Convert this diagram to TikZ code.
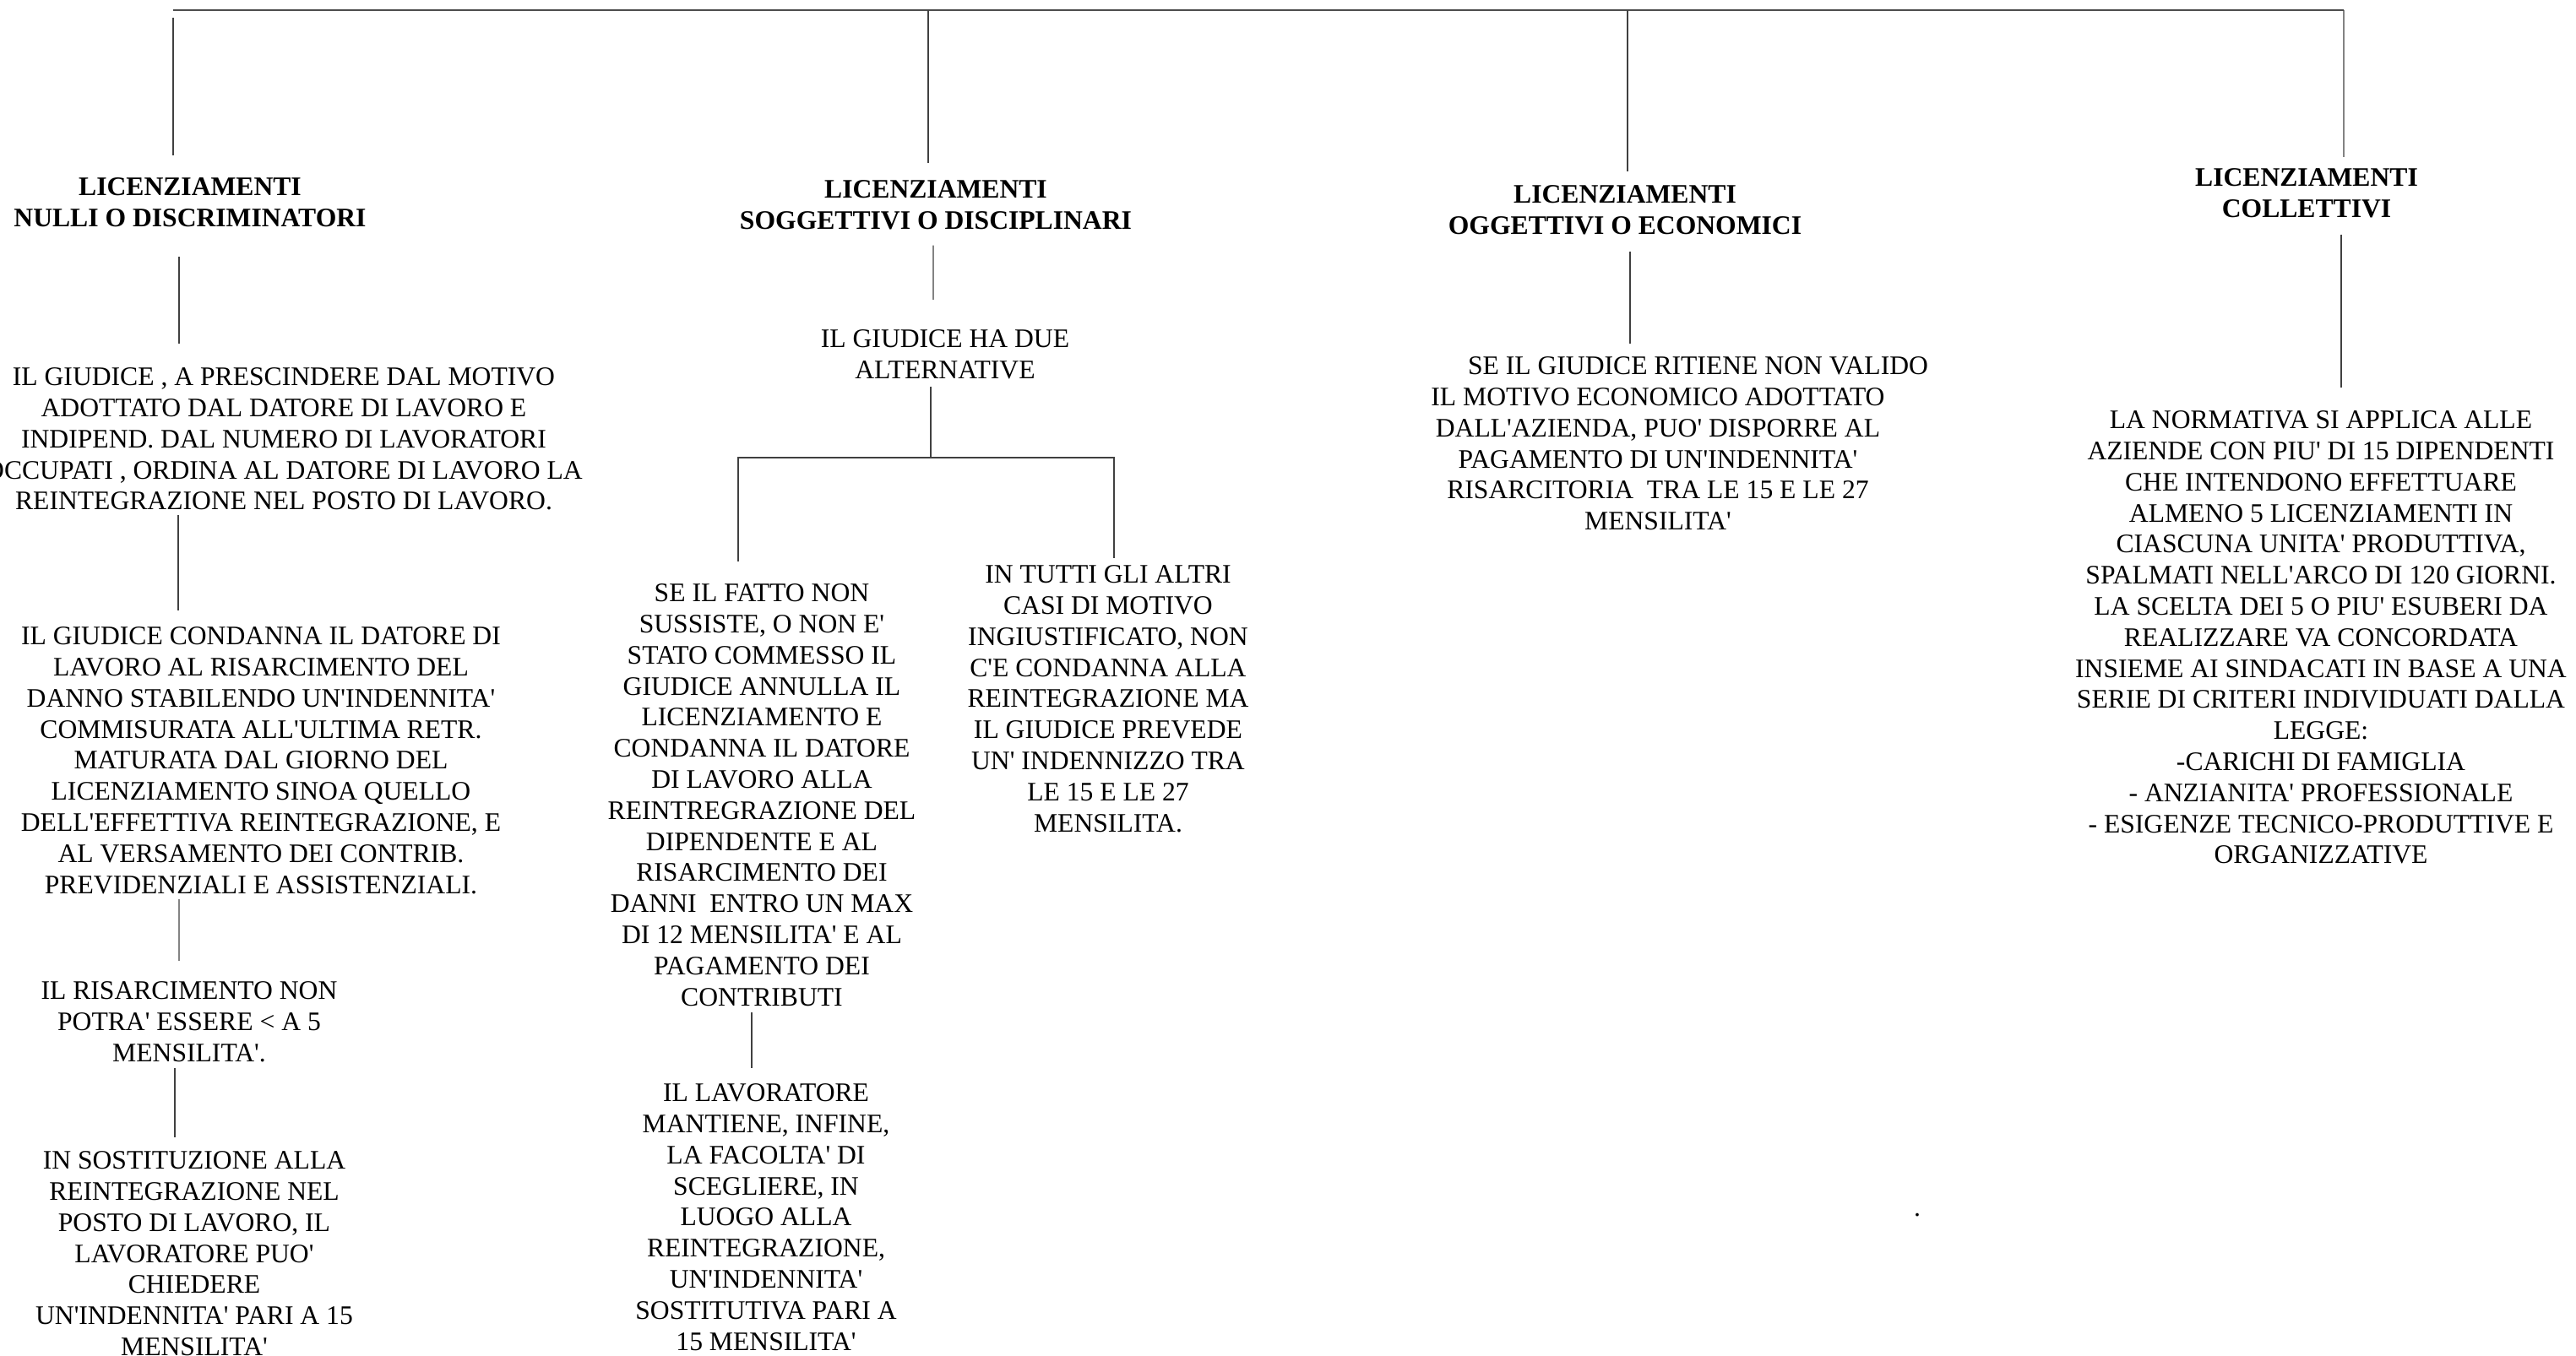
\documentclass[tikz,border=0pt]{standalone}
\usepackage{fontspec}
\setmainfont{Liberation Serif}[Ligatures=TeXOff]
\usetikzlibrary{calc}
\begin{document}
\begin{tikzpicture}[txt/.style={align=center, inner sep=0pt, anchor=north, font=\fontsize{9pt}{10.47pt}\selectfont},
		title/.style={txt, font=\fontsize{9pt}{10.47pt}\selectfont\bfseries},
		link/.style={draw=black!75, line width=0.3pt}, topline/.style={draw=black!70, line width=0.5pt}]
	\useasboundingbox (0,0) rectangle (30.5,-16.06);
	
	\node[title] (T1) at (2.25,-2.10) {LICENZIAMENTI\\NULLI O DISCRIMINATORI};
	\node[title] (T2) at (11.08,-2.13) {LICENZIAMENTI\\SOGGETTIVI O DISCIPLINARI};
	\node[title] (T3) at (19.24,-2.19) {LICENZIAMENTI\\OGGETTIVI O ECONOMICI};
	\node[title] (T4) at (27.31,-1.99) {LICENZIAMENTI\\COLLETTIVI};
	
	\node[txt] (A1) at (3.36,-4.35) {IL GIUDICE , A PRESCINDERE DAL MOTIVO\\ADOTTATO DAL DATORE DI LAVORO E\\INDIPEND. DAL NUMERO DI LAVORATORI\\OCCUPATI , ORDINA AL DATORE DI LAVORO LA\\REINTEGRAZIONE NEL POSTO DI LAVORO.};
	\node[txt] (B1) at (3.09,-7.42) {IL GIUDICE CONDANNA IL DATORE DI\\LAVORO AL RISARCIMENTO DEL\\DANNO STABILENDO UN'INDENNITA'\\COMMISURATA ALL'ULTIMA RETR.\\MATURATA DAL GIORNO DEL\\LICENZIAMENTO SINOA QUELLO\\DELL'EFFETTIVA REINTEGRAZIONE, E\\AL VERSAMENTO DEI CONTRIB.\\PREVIDENZIALI E ASSISTENZIALI.};
	\node[txt] (C1) at (2.24,-11.62) {IL RISARCIMENTO NON\\POTRA' ESSERE < A 5\\MENSILITA'.};
	\node[txt] (D1) at (2.30,-13.63) {IN SOSTITUZIONE ALLA\\REINTEGRAZIONE NEL\\POSTO DI LAVORO, IL\\LAVORATORE PUO'\\CHIEDERE\\UN'INDENNITA' PARI A 15\\MENSILITA'};
	
	\node[txt] (E2) at (11.19,-3.90) {IL GIUDICE HA DUE\\ALTERNATIVE};
	\node[txt] (F2) at (9.02,-6.91) {SE IL FATTO NON\\SUSSISTE, O NON E'\\STATO COMMESSO IL\\GIUDICE ANNULLA IL\\LICENZIAMENTO E\\CONDANNA IL DATORE\\DI LAVORO ALLA\\REINTREGRAZIONE DEL\\DIPENDENTE E AL\\RISARCIMENTO DEI\\DANNI\ \ ENTRO UN MAX\\DI 12 MENSILITA' E AL\\PAGAMENTO DEI\\CONTRIBUTI};
	\node[txt] (G2) at (13.12,-6.69) {IN TUTTI GLI ALTRI\\CASI DI MOTIVO\\INGIUSTIFICATO, NON\\C'E CONDANNA ALLA\\REINTEGRAZIONE MA\\IL GIUDICE PREVEDE\\UN' INDENNIZZO TRA\\LE 15 E LE 27\\MENSILITA.};
	\node[txt] (H2) at (9.07,-12.83) {IL LAVORATORE\\MANTIENE, INFINE,\\LA FACOLTA' DI\\SCEGLIERE, IN\\LUOGO ALLA\\REINTEGRAZIONE,\\UN'INDENNITA'\\SOSTITUTIVA PARI A\\15 MENSILITA'};
	
	\node[txt] (I3) at (19.63,-4.22) {\hspace*{0.95cm}SE IL GIUDICE RITIENE NON VALIDO\\IL MOTIVO ECONOMICO ADOTTATO\\DALL'AZIENDA, PUO' DISPORRE AL\\PAGAMENTO DI UN'INDENNITA'\\RISARCITORIA\ \ TRA LE 15 E LE 27\\MENSILITA'};
	
	\node[txt] (J4) at (27.48,-4.86) {LA NORMATIVA SI APPLICA ALLE\\AZIENDE CON PIU' DI 15 DIPENDENTI\\CHE INTENDONO EFFETTUARE\\ALMENO 5 LICENZIAMENTI IN\\CIASCUNA UNITA' PRODUTTIVA,\\SPALMATI NELL'ARCO DI 120 GIORNI.\\LA SCELTA DEI 5 O PIU' ESUBERI DA\\REALIZZARE VA CONCORDATA\\INSIEME AI SINDACATI IN BASE A UNA\\SERIE DI CRITERI INDIVIDUATI DALLA\\LEGGE:\\-CARICHI DI FAMIGLIA\\- ANZIANITA' PROFESSIONALE\\- ESIGENZE TECNICO-PRODUTTIVE E\\ORGANIZZATIVE};
	
	\node[txt, anchor=center] (dot) at (22.70,-14.39) {.};
	
	\coordinate (hl) at (2.05,-0.12);
	\coordinate (hr) at (27.75,-0.12);
	\coordinate (fork) at (11.02,-5.42);
	
	\draw[topline] (hl) -- (hr);
	\draw[link] ($(hl)+(0,-0.09)$) -- ($(T1.north)+(-0.20,0.26)$);
	\draw[link] ($(hl -| T2.north)+(-0.09,0)$) -- ($(T2.north)+(-0.09,0.20)$);
	\draw[link] ($(hl -| T3.north)+(0.03,0)$) -- ($(T3.north)+(0.03,0.16)$);
	\draw[link] (hr) -- ($(T4.north)+(0.44,0.13)$);
	
	\draw[link] ($(T1.south)+(-0.13,-0.35)$) -- ($(A1.north)+(-1.24,0.28)$);
	\draw[link] ($(A1.south)+(-1.25,-0.05)$) -- ($(B1.north)+(-0.98,0.19)$);
	\draw[link] ($(B1.south)+(-0.97,-0.06)$) -- ($(C1.north)+(-0.12,0.24)$);
	\draw[link] ($(C1.south)+(-0.17,-0.07)$) -- ($(D1.north)+(-0.23,0.16)$);
	
	\draw[link] ($(T2.south)+(-0.03,-0.18)$) -- ($(E2.north)+(-0.14,0.35)$);
	\draw[link] ($(E2.south)+(-0.17,-0.08)$) -- (fork);
	\draw[link] ($(F2.north)+(-0.28,0.26)$) |- (fork) -| ($(G2.north)+(0.07,0.08)$);
	\draw[link] ($(F2.south)+(-0.12,-0.07)$) -- ($(H2.north)+(-0.17,0.18)$);
	
	\draw[link] ($(T3.south)+(0.06,-0.19)$) -- ($(I3.north)+(-0.33,0.15)$);
	\draw[link] ($(T4.south)+(0.41,-0.19)$) -- ($(J4.north)+(0.24,0.27)$);
	
\end{tikzpicture}
\end{document}
